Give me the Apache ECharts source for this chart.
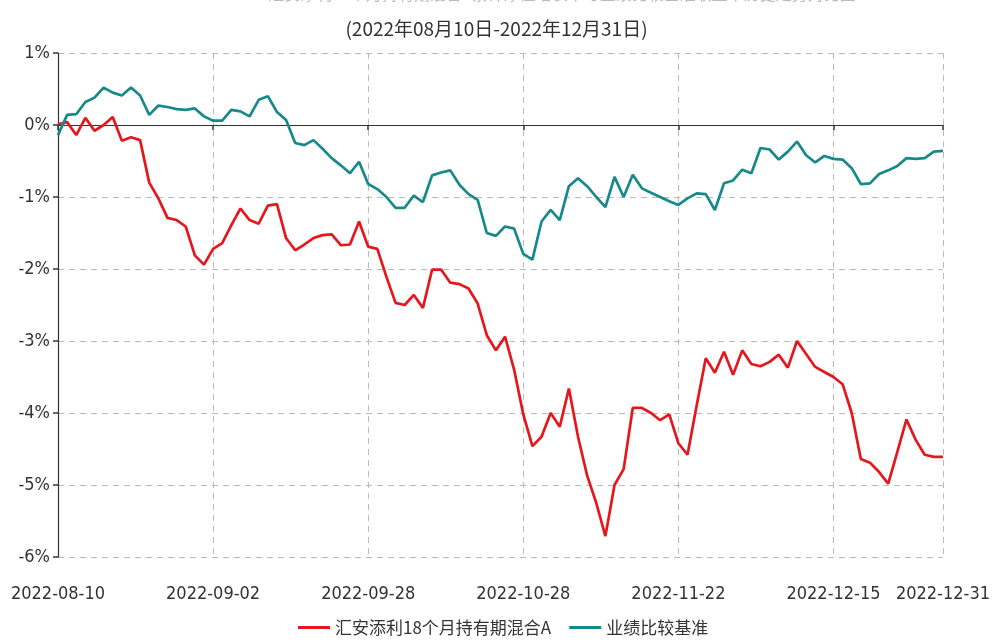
<!DOCTYPE html>
<html>
<head>
<meta charset="utf-8">
<script src="https://cdn.jsdelivr.net/npm/echarts@6/dist/echarts.min.js"></script>
<style>html,body{margin:0;padding:0;background:#fff;}#c{width:993px;height:643px;}</style>
</head>
<body>
<div id="c"></div>
<script>
const dates = [
'2022-08-10','2022-08-11','2022-08-12','2022-08-15','2022-08-16','2022-08-17','2022-08-18','2022-08-19','2022-08-22','2022-08-23','2022-08-24','2022-08-25','2022-08-26','2022-08-29','2022-08-30','2022-08-31',
'2022-09-01','2022-09-02','2022-09-05','2022-09-06','2022-09-07','2022-09-08','2022-09-09','2022-09-13','2022-09-14','2022-09-15','2022-09-16','2022-09-19','2022-09-20','2022-09-21','2022-09-22','2022-09-23','2022-09-26','2022-09-27','2022-09-28','2022-09-29','2022-09-30',
'2022-10-10','2022-10-11','2022-10-12','2022-10-13','2022-10-14','2022-10-17','2022-10-18','2022-10-19','2022-10-20','2022-10-21','2022-10-24','2022-10-25','2022-10-26','2022-10-27','2022-10-28','2022-10-31',
'2022-11-01','2022-11-02','2022-11-03','2022-11-04','2022-11-07','2022-11-08','2022-11-09','2022-11-10','2022-11-11','2022-11-14','2022-11-15','2022-11-16','2022-11-17','2022-11-18','2022-11-21','2022-11-22','2022-11-23','2022-11-24','2022-11-25','2022-11-28','2022-11-29','2022-11-30',
'2022-12-01','2022-12-02','2022-12-05','2022-12-06','2022-12-07','2022-12-08','2022-12-09','2022-12-12','2022-12-13','2022-12-14','2022-12-15','2022-12-16','2022-12-19','2022-12-20','2022-12-21','2022-12-22','2022-12-23','2022-12-26','2022-12-27','2022-12-28','2022-12-29','2022-12-30','2022-12-31'
];
const labelDates = ['2022-08-10','2022-09-02','2022-09-28','2022-10-28','2022-11-22','2022-12-15','2022-12-31'];
const fundName = '汇安添利18个月持有期混合A';
const benchName = '业绩比较基准';
const fund = [
0.01,0.04,-0.14,0.10,-0.08,0.00,0.11,-0.22,-0.17,-0.21,
-0.80,-1.02,-1.29,-1.32,-1.41,-1.81,-1.94,-1.72,-1.64,-1.39,
-1.16,-1.32,-1.37,-1.12,-1.10,-1.57,-1.74,-1.66,-1.57,-1.53,
-1.52,-1.67,-1.66,-1.34,-1.69,-1.72,-2.11,-2.47,-2.50,-2.36,
-2.54,-2.01,-2.01,-2.19,-2.21,-2.27,-2.48,-2.92,-3.13,-2.94,
-3.40,-4.02,-4.46,-4.33,-4.00,-4.19,-3.66,-4.33,-4.87,-5.25,
-5.71,-5.00,-4.78,-3.93,-3.93,-4.00,-4.10,-4.02,-4.42,-4.58,
-3.90,-3.24,-3.44,-3.15,-3.47,-3.13,-3.32,-3.35,-3.29,-3.19,
-3.37,-3.00,-3.18,-3.36,-3.43,-3.50,-3.60,-4.00,-4.64,-4.69,
-4.82,-4.98,-4.54,-4.09,-4.37,-4.58,-4.61,-4.61
];
const bench = [
-0.14,0.14,0.15,0.32,0.38,0.52,0.45,0.41,0.52,0.41,
0.14,0.27,0.25,0.22,0.21,0.23,0.12,0.06,0.06,0.21,
0.19,0.12,0.35,0.40,0.18,0.07,-0.25,-0.28,-0.21,-0.33,
-0.46,-0.56,-0.67,-0.51,-0.82,-0.89,-1.00,-1.15,-1.15,-0.98,
-1.07,-0.70,-0.66,-0.63,-0.83,-0.96,-1.04,-1.50,-1.54,-1.41,
-1.44,-1.79,-1.87,-1.34,-1.18,-1.32,-0.85,-0.74,-0.85,-1.00,
-1.14,-0.72,-1.00,-0.69,-0.88,-0.94,-1.00,-1.06,-1.11,-1.02,
-0.95,-0.96,-1.18,-0.81,-0.77,-0.62,-0.67,-0.32,-0.34,-0.48,
-0.37,-0.23,-0.42,-0.52,-0.43,-0.47,-0.48,-0.60,-0.82,-0.81,
-0.68,-0.63,-0.57,-0.46,-0.47,-0.46,-0.37,-0.36
];
const yMin = -6, yMax = 1, yStep = 1;
const titleText = '汇安添利18个月持有期混合A累计净值增长率与业绩比较基准收益率历史走势对比图';
const subTitle = '(2022年08月10日-2022年12月31日)';

const narrow = '"DejaVu Sans Condensed","Noto Sans CJK SC",sans-serif';
const showIdx = (i) => labelDates.indexOf(dates[i]) >= 0;

const chart = echarts.init(document.getElementById('c'), null, {renderer: 'canvas'});
chart.setOption({
  animation: false,
  backgroundColor: '#fff',
  title: [
    {text: titleText, left: 557, textAlign: 'center', top: -19,
     textStyle: {fontSize: 16, fontWeight: 'normal', color: '#bbb', fontFamily: '"Noto Sans CJK SC",sans-serif'}},
    {text: subTitle, left: 'center', top: 14,
     textStyle: {fontSize: 19, fontWeight: 'normal', color: '#333', fontFamily: '"Noto Sans CJK SC",sans-serif'}}
  ],
  legend: {
    bottom: 2, left: 293, icon: 'rect', itemWidth: 32, itemHeight: 3, itemGap: 18,
    textStyle: {fontSize: 17, color: '#333', fontFamily: '"Noto Sans CJK SC",sans-serif'},
    data: [fundName, benchName]
  },
  grid: {left: 58, right: 48, top: 53, bottom: 86, containLabel: false},
  xAxis: [
    {
      type: 'category', data: dates, boundaryGap: false,
      axisLine: {show: false, onZero: false},
      axisTick: {show: false},
      axisLabel: {interval: (i) => showIdx(i), margin: 28, fontSize: 18, color: '#333', fontFamily: narrow},
      splitLine: {show: true, interval: (i) => showIdx(i) && i > 0, lineStyle: {color: '#bbb', type: [6, 5], width: 1}}
    },
    {
      type: 'category', data: dates, boundaryGap: false, position: 'bottom',
      axisLine: {show: true, onZero: true, lineStyle: {color: '#333', width: 1.2}},
      axisTick: {show: true, interval: (i) => showIdx(i), length: 5, lineStyle: {color: '#333', width: 1.5}},
      axisLabel: {show: false},
      splitLine: {show: false}
    }
  ],
  yAxis: {
    type: 'value', min: yMin, max: yMax, interval: yStep,
    axisLine: {show: true, lineStyle: {color: '#333', width: 1.2}},
    axisTick: {show: true, length: 5, lineStyle: {color: '#333', width: 1.5}},
    axisLabel: {formatter: '{value}%', fontSize: 18, color: '#333', margin: 8, fontFamily: narrow},
    splitLine: {show: true, lineStyle: {color: '#bbb', type: [6, 5], width: 1}}
  },
  series: [
    {name: fundName, type: 'line', data: fund, xAxisIndex: 0, symbol: 'none', smooth: false,
     lineStyle: {color: '#e5171c', width: 2.7}, itemStyle: {color: '#e5171c'}, z: 3},
    {name: benchName, type: 'line', data: bench, xAxisIndex: 0, symbol: 'none', smooth: false,
     lineStyle: {color: '#17898a', width: 2.7}, itemStyle: {color: '#17898a'}, z: 3}
  ]
});
</script>
</body>
</html>
